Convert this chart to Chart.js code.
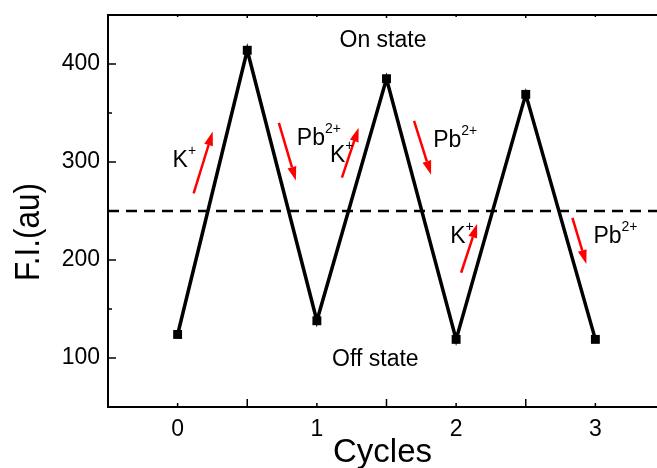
<!DOCTYPE html>
<html>
<head>
<meta charset="utf-8">
<script src="https://cdn.jsdelivr.net/npm/chart.js@4/dist/chart.umd.min.js"></script>
<style>
  html, body { margin: 0; padding: 0; background: #fff; overflow: hidden; }
  #wrap { width: 657px; height: 468px; overflow: hidden; }
</style>
</head>
<body>
<div id="wrap"><canvas id="cycleChart" width="672" height="468"></canvas></div>
<script>
// switching cycles, K+ turns fluorescence on, Pb2+ turns it off
var cycles = [0, 0.5, 1, 1.5, 2, 2.5, 3];
var intensity = [124, 414, 138, 385, 119, 369, 119];
var threshold = 250;

var xTicks = [0, 1, 2, 3];
var xHalfTicks = [0.5, 1.5, 2.5];
var yTicks = [100, 200, 300, 400];
var yHalfTicks = [150, 250, 350];

// red arrows (data units) and ion labels
var arrowFrom = [[0.115, 268], [0.727, 340], [1.18, 284], [1.698, 342], [2.036, 187], [2.835, 243]];
var arrowTo = [[0.252, 331], [0.849, 281], [1.30, 335], [1.820, 287], [2.151, 237], [2.935, 196]];
var ionBase = ["K", "Pb", "K", "Pb", "K", "Pb"];
var ionSup = ["+", "2+", "+", "2+", "+", "2+"];
var ionPos = [[-0.036, 295], [0.856, 317], [1.094, 300], [1.835, 315], [1.957, 217], [2.986, 217]];

var stateLabels = ["On state", "Off state"];
var statePos = [[1.475, 417], [1.42, 92]];

var FONT = '"Liberation Sans", Arial, sans-serif';

var decor = {
    id: 'decor',
    afterDatasetsDraw: function (chart) {
        var ctx = chart.ctx;
        var xs = chart.scales.x, ys = chart.scales.y;
        var area = chart.chartArea;
        ctx.save();

        // top frame line
        ctx.strokeStyle = '#000';
        ctx.lineWidth = 2;
        ctx.beginPath();
        ctx.moveTo(area.left, area.top);
        ctx.lineTo(area.right, area.top);
        ctx.stroke();

        // inward tick marks
        ctx.lineWidth = 1.5;
        ctx.beginPath();
        xTicks.forEach(function (v) {
            var px = xs.getPixelForValue(v);
            ctx.moveTo(px, area.bottom); ctx.lineTo(px, area.bottom - 4);
            ctx.moveTo(px, area.top); ctx.lineTo(px, area.top + 2);
        });
        xHalfTicks.forEach(function (v) {
            var px = xs.getPixelForValue(v);
            ctx.moveTo(px, area.bottom); ctx.lineTo(px, area.bottom - 8);
            ctx.moveTo(px, area.top); ctx.lineTo(px, area.top + 3);
        });
        yTicks.forEach(function (v) {
            var py = ys.getPixelForValue(v);
            ctx.moveTo(area.left, py); ctx.lineTo(area.left + 8, py);
        });
        yHalfTicks.forEach(function (v) {
            var py = ys.getPixelForValue(v);
            ctx.moveTo(area.left, py); ctx.lineTo(area.left + 4, py);
        });
        ctx.stroke();

        // red arrows
        ctx.strokeStyle = '#ff0000';
        ctx.fillStyle = '#ff0000';
        ctx.lineWidth = 2.5;
        for (var i = 0; i < arrowFrom.length; i++) {
            var x1 = xs.getPixelForValue(arrowFrom[i][0]), y1 = ys.getPixelForValue(arrowFrom[i][1]);
            var x2 = xs.getPixelForValue(arrowTo[i][0]), y2 = ys.getPixelForValue(arrowTo[i][1]);
            var ang = Math.atan2(y2 - y1, x2 - x1);
            var headLen = 14, headW = 4.5;
            var bx = x2 - headLen * Math.cos(ang), by = y2 - headLen * Math.sin(ang);
            ctx.beginPath();
            ctx.moveTo(x1, y1);
            ctx.lineTo(bx, by);
            ctx.stroke();
            ctx.beginPath();
            ctx.moveTo(x2, y2);
            ctx.lineTo(bx + headW * Math.sin(ang), by - headW * Math.cos(ang));
            ctx.lineTo(bx - headW * Math.sin(ang), by + headW * Math.cos(ang));
            ctx.closePath();
            ctx.fill();
        }

        // ion labels with superscripts
        ctx.fillStyle = '#000';
        ctx.textBaseline = 'alphabetic';
        ctx.textAlign = 'left';
        for (var j = 0; j < ionBase.length; j++) {
            var lx = xs.getPixelForValue(ionPos[j][0]), ly = ys.getPixelForValue(ionPos[j][1]);
            ctx.font = '23px ' + FONT;
            ctx.fillText(ionBase[j], lx, ly);
            var w = ctx.measureText(ionBase[j]).width;
            ctx.font = '14px ' + FONT;
            ctx.fillText(ionSup[j], lx + w, ly - 12);
        }

        // state labels
        ctx.font = '23px ' + FONT;
        ctx.textAlign = 'center';
        for (var k = 0; k < stateLabels.length; k++) {
            ctx.fillText(stateLabels[k], xs.getPixelForValue(statePos[k][0]), ys.getPixelForValue(statePos[k][1]));
        }
        ctx.restore();
    },
    afterDraw: function (chart) {
        var ctx = chart.ctx;
        var area = chart.chartArea;
        ctx.save();
        ctx.fillStyle = '#000';
        ctx.textAlign = 'center';
        ctx.textBaseline = 'alphabetic';
        ctx.font = '33px ' + FONT;
        ctx.fillText('Cycles', (area.left + 657) / 2, 462);

        ctx.translate(39, 232);
        ctx.rotate(-Math.PI / 2);
        ctx.scale(0.9, 1);
        ctx.font = '35px ' + FONT;
        ctx.fillText('F.I.(au)', 0, 0);
        ctx.restore();
    }
};

var points = cycles.map(function (c, i) { return { x: c, y: intensity[i] }; });

var chart = new Chart(document.getElementById('cycleChart'), {
    type: 'line',
    data: {
        datasets: [{
            data: points,
            borderColor: '#000',
            borderWidth: 3.5,
            pointStyle: 'rect',
            pointRadius: 6.3,
            pointBackgroundColor: '#000',
            pointBorderWidth: 0,
            tension: 0
        }, {
            data: [{ x: -0.5, y: threshold }, { x: 3.5, y: threshold }],
            borderColor: '#000',
            borderWidth: 2.5,
            borderDash: [11, 7],
            pointRadius: 0
        }]
    },
    options: {
        responsive: false,
        animation: false,
        devicePixelRatio: 1,
        layout: { padding: { top: 15, right: 7, left: 0, bottom: 0 } },
        plugins: { legend: { display: false }, tooltip: { enabled: false } },
        scales: {
            x: {
                type: 'linear',
                min: -0.5,
                max: 3.5,
                afterBuildTicks: function (s) { s.ticks = xTicks.map(function (v) { return { value: v }; }); },
                afterFit: function (s) { s.height = 61; s.paddingLeft = 0; s.paddingRight = 0; },
                grid: { display: false, drawTicks: false },
                border: { display: true, color: '#000', width: 2 },
                ticks: { color: '#000', font: { family: FONT, size: 23 }, padding: 9, maxRotation: 0, autoSkip: false }
            },
            y: {
                type: 'linear',
                min: 50,
                max: 450,
                afterBuildTicks: function (s) { s.ticks = yTicks.map(function (v) { return { value: v }; }); },
                afterFit: function (s) { s.width = 108; s.paddingTop = 0; s.paddingBottom = 0; },
                grid: { display: false, drawTicks: false },
                border: { display: true, color: '#000', width: 2 },
                ticks: { color: '#000', font: { family: FONT, size: 23 }, padding: 8, autoSkip: false }
            }
        }
    },
    plugins: [decor]
});
</script>
</body>
</html>
